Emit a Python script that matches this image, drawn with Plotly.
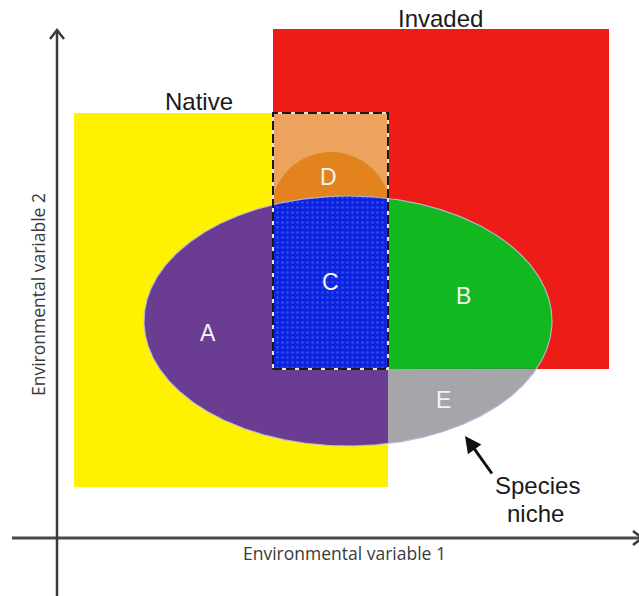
import numpy as np
import plotly.graph_objects as go

# ---- Diagram data (environmental-variable units, origin at axis crossing) ----
native_env1 = [17, 331]
native_env2 = [51, 425]
invaded_env1 = [216, 552]
invaded_env2 = [169, 509]
niche_center = [291, 217]
niche_radii = [204, 125]
d_center = [274, 326]
d_radius = 60
region_labels = ["A", "B", "C", "D", "E"]
label_env1 = [151, 406, 273, 271, 386]
label_env2 = [205, 242, 256, 361, 138]
range_names = ["Native", "Invaded"]
range_env1 = [142, 383]
range_env2 = [437, 520]
niche_words = ["Species", "niche"]
niche_env1 = [480, 478]
niche_env2 = [53, 25]
axis_titles = ["Environmental variable 1", "Environmental variable 2"]

C_YELLOW = "#FFF200"
C_RED = "#ED1C16"
C_LORANGE = "#EBA35E"
C_DORANGE = "#E2831E"
C_PURPLE = "#6A3C92"
C_BLUE = "#0B22DE"
C_GREEN = "#12B820"
C_GREY = "#A6A6AA"
C_AXIS = "#3A3A3A"


def clip(poly, xmin, xmax, ymin, ymax):
    def clip_edge(pts, inside, inter):
        out = []
        n = len(pts)
        for i in range(n):
            cur, prev = pts[i], pts[i - 1]
            if inside(cur):
                if not inside(prev):
                    out.append(inter(prev, cur))
                out.append(cur)
            elif inside(prev):
                out.append(inter(prev, cur))
        return out

    def ix(p, q, x):
        t = (x - p[0]) / (q[0] - p[0])
        return (x, p[1] + t * (q[1] - p[1]))

    def iy(p, q, y):
        t = (y - p[1]) / (q[1] - p[1])
        return (p[0] + t * (q[0] - p[0]), y)

    pts = list(poly)
    pts = clip_edge(pts, lambda p: p[0] >= xmin, lambda p, q: ix(p, q, xmin))
    if pts:
        pts = clip_edge(pts, lambda p: p[0] <= xmax, lambda p, q: ix(p, q, xmax))
    if pts:
        pts = clip_edge(pts, lambda p: p[1] >= ymin, lambda p, q: iy(p, q, ymin))
    if pts:
        pts = clip_edge(pts, lambda p: p[1] <= ymax, lambda p, q: iy(p, q, ymax))
    return pts


def rect(x, y):
    return [(x[0], y[0]), (x[1], y[0]), (x[1], y[1]), (x[0], y[1])]


def poly_trace(pts, color, pattern=None):
    xs = [p[0] for p in pts] + [pts[0][0]]
    ys = [p[1] for p in pts] + [pts[0][1]]
    kw = dict(x=xs, y=ys, mode="lines", fill="toself", fillcolor=color,
              line=dict(color="rgba(0,0,0,0)", width=0),
              hoverinfo="skip", showlegend=False)
    if pattern:
        kw["fillpattern"] = pattern
    return go.Scatter(**kw)


t = np.linspace(0, 2 * np.pi, 900, endpoint=False)
ellipse = list(zip(niche_center[0] + niche_radii[0] * np.cos(t),
                   niche_center[1] + niche_radii[1] * np.sin(t)))
circle = list(zip(d_center[0] + d_radius * np.cos(t),
                  d_center[1] + d_radius * np.sin(t)))

ov_x = [invaded_env1[0], native_env1[1]]
ov_y = [invaded_env2[0], native_env2[1]]
BIG = 10000

fig = go.Figure()
fig.add_trace(poly_trace(rect(native_env1, native_env2), C_YELLOW))
fig.add_trace(poly_trace(rect(invaded_env1, invaded_env2), C_RED))
fig.add_trace(poly_trace(rect(ov_x, ov_y), C_LORANGE))
fig.add_trace(poly_trace(clip(circle, ov_x[0], ov_x[1], ov_y[0], ov_y[1]), C_DORANGE))
fig.add_trace(poly_trace(ellipse, C_PURPLE))
fig.add_trace(poly_trace(clip(ellipse, ov_x[1], invaded_env1[1], invaded_env2[0], invaded_env2[1]), C_GREEN))
fig.add_trace(poly_trace(clip(ellipse, native_env1[1], BIG, -BIG, invaded_env2[0]), C_GREY))
fig.add_trace(poly_trace(clip(ellipse, ov_x[0], ov_x[1], ov_y[0], ov_y[1]), C_BLUE,
                         pattern=dict(shape=".", fgcolor="rgba(70,95,250,0.7)",
                                      bgcolor=C_BLUE, size=5, solidity=0.2, fillmode="replace")))
# ellipse outline
ex = [p[0] for p in ellipse] + [ellipse[0][0]]
ey = [p[1] for p in ellipse] + [ellipse[0][1]]
fig.add_trace(go.Scatter(x=ex, y=ey, mode="lines", line=dict(color="rgba(190,190,225,0.85)", width=1.2),
                         hoverinfo="skip", showlegend=False))
# dashed overlap rectangle
rx = [ov_x[0], ov_x[1], ov_x[1], ov_x[0], ov_x[0]]
ry = [ov_y[0], ov_y[0], ov_y[1], ov_y[1], ov_y[0]]
fig.add_trace(go.Scatter(x=rx, y=ry, mode="lines", line=dict(color="#F2E0D0", width=2),
                         hoverinfo="skip", showlegend=False))
fig.add_trace(go.Scatter(x=rx, y=ry, mode="lines", line=dict(color="#1A1A1A", width=2, dash="9px,4px"),
                         hoverinfo="skip", showlegend=False))

# axes
fig.add_trace(go.Scatter(x=[-45, 590], y=[0, 0], mode="lines", line=dict(color="#4A4A4A", width=3),
                         hoverinfo="skip", showlegend=False))
fig.add_trace(go.Scatter(x=[0, 0], y=[-70, 507], mode="lines", line=dict(color=C_AXIS, width=2.5),
                         hoverinfo="skip", showlegend=False))
fig.add_trace(go.Scatter(x=[-7, 0, 7], y=[499, 508, 499], mode="lines",
                         line=dict(color=C_AXIS, width=2.5), hoverinfo="skip", showlegend=False))
fig.add_trace(go.Scatter(x=[576, 585, 576], y=[7, 0, -7], mode="lines",
                         line=dict(color=C_AXIS, width=2.5), hoverinfo="skip", showlegend=False))

ann = []
for lab, x, y in zip(region_labels, label_env1, label_env2):
    ann.append(dict(x=x, y=y, text=lab, showarrow=False,
                    font=dict(family="Liberation Sans, Arial", size=23, color="#F4F4F4")))
for lab, x, y in zip(range_names, range_env1, range_env2):
    ann.append(dict(x=x, y=y, text=lab, showarrow=False,
                    font=dict(family="Liberation Sans, Arial", size=24, color="#1A1A1A")))
for lab, x, y in zip(niche_words, niche_env1, niche_env2):
    ann.append(dict(x=x, y=y, text=lab, showarrow=False,
                    font=dict(family="Liberation Sans, Arial", size=24, color="#1A1A1A")))
ann.append(dict(x=408, y=102, ax=436, ay=63, axref="x", ayref="y", text="", showarrow=True,
                arrowhead=2, arrowsize=1.1, arrowwidth=3, arrowcolor="#111111"))
ann.append(dict(x=287, y=-15, text=axis_titles[0], showarrow=False,
                font=dict(family="Open Sans", size=17.5, color="#3A3A3A")))
ann.append(dict(x=-19, y=243, text=axis_titles[1], showarrow=False, textangle=-90,
                font=dict(family="Open Sans", size=17.5, color="#3A3A3A")))

fig.update_layout(
    width=639, height=596, autosize=False,
    margin=dict(l=0, r=0, t=0, b=0),
    paper_bgcolor="white", plot_bgcolor="white",
    xaxis=dict(range=[-57, 582], visible=False, fixedrange=True),
    yaxis=dict(range=[-58, 538], visible=False, fixedrange=True),
    annotations=ann,
)
fig.write_html("out.html", config={"displayModeBar": False},
               post_script="document.body.style.margin='0';")
